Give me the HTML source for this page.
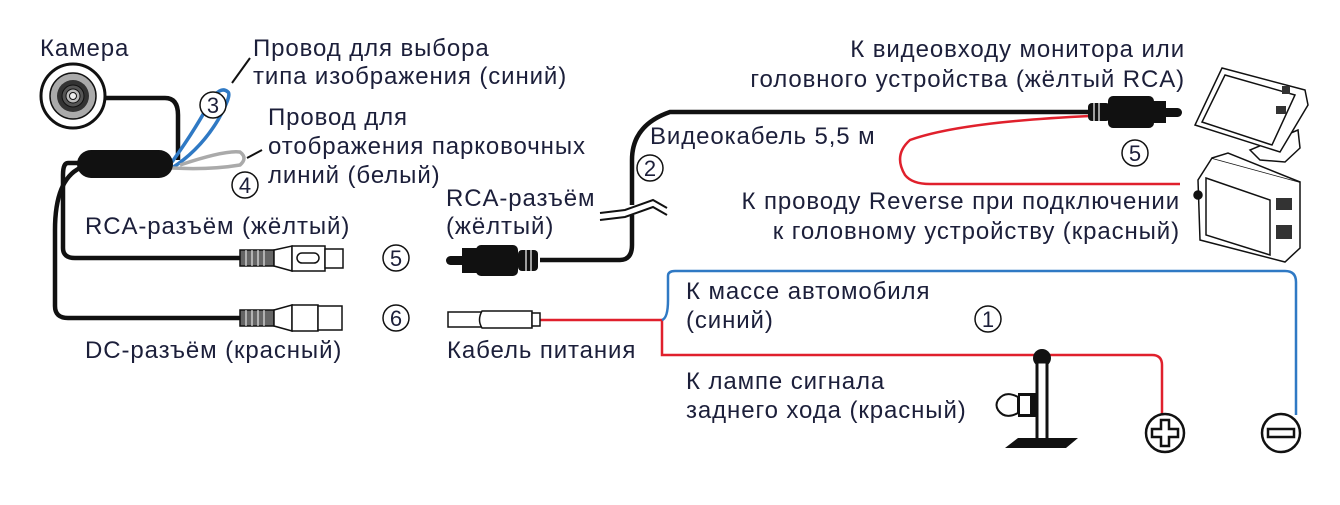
<!DOCTYPE html>
<html><head><meta charset="utf-8"><style>
html,body{margin:0;padding:0;background:#fff;}
svg{display:block}
text{font-family:"Liberation Sans","DejaVu Sans",sans-serif;font-size:24px;letter-spacing:0.9px;fill:#1c1f3a;}
.n{font-size:22px;letter-spacing:0;text-anchor:middle}
.c{fill:#fff;stroke:#111;stroke-width:1.5}
</style></head><body>
<svg width="1340" height="505" viewBox="0 0 1340 505" xmlns="http://www.w3.org/2000/svg">
<!-- camera -->
<circle cx="73" cy="96" r="32" fill="#fff" stroke="#111" stroke-width="3"/>
<circle cx="73" cy="96" r="23" fill="#aaa" stroke="#111" stroke-width="1.5"/>
<circle cx="73" cy="96" r="16" fill="#333"/>
<circle cx="73" cy="96" r="11" fill="#555" stroke="#111"/>
<circle cx="73" cy="96" r="7" fill="#bbb" stroke="#111"/>
<circle cx="73" cy="96" r="3.5" fill="#eee" stroke="#111"/>
<path d="M105 98 H165 Q178 98 178 115 V160" fill="none" stroke="#111" stroke-width="4.5"/>
<!-- cables from block -->
<path d="M82 163 H68 Q63 163 63 175 V248 Q63 258 75 258 H242" fill="none" stroke="#111" stroke-width="4.5"/>
<path d="M80 168 Q55 180 55 230 V306 Q55 318 68 318 H242" fill="none" stroke="#111" stroke-width="4.5"/>
<!-- loops -->
<path d="M172 168 Q200 150 218 120 Q232 95 228 92 Q220 85 210 102 Q195 130 172 162" fill="none" stroke="#2f79c4" stroke-width="3.5"/>
<path d="M172 168 Q210 170 240 165 Q248 158 240 152 Q225 150 180 165" fill="none" stroke="#aaa" stroke-width="3.5"/>
<line x1="232" y1="83" x2="250" y2="58" stroke="#111" stroke-width="2"/>
<line x1="247" y1="158" x2="262" y2="150" stroke="#111" stroke-width="2"/>
<rect x="77" y="150" width="96" height="28" rx="14" fill="#111"/>
<!-- female RCA -->
<g stroke="#111" stroke-width="1.5">
<rect x="240" y="250" width="34" height="16" fill="#666"/>
<path d="M274 250 L292 246 V271 L274 266 Z" fill="#fff"/>
<rect x="292" y="246" width="33" height="25" fill="#fff"/>
<rect x="297" y="253" width="22" height="10" rx="5" fill="#fff"/>
<rect x="325" y="249" width="18" height="19" fill="#fff"/>
<rect x="240" y="310" width="34" height="16" fill="#666"/>
<path d="M274 310 L292 305 V331 L274 326 Z" fill="#fff"/>
<rect x="292" y="305" width="26" height="26" fill="#fff"/>
<rect x="318" y="306" width="24" height="24" fill="#fff"/>
</g>
<g stroke="#fff" stroke-width="1"><line x1="246" y1="250" x2="246" y2="266"/><line x1="252" y1="250" x2="252" y2="266"/><line x1="258" y1="250" x2="258" y2="266"/><line x1="264" y1="250" x2="264" y2="266"/><line x1="246" y1="310" x2="246" y2="326"/><line x1="252" y1="310" x2="252" y2="326"/><line x1="258" y1="310" x2="258" y2="326"/><line x1="264" y1="310" x2="264" y2="326"/></g>
<!-- male RCA left -->
<path d="M540 260 H620 Q632 260 632 245 V160 Q632 125 670 112 H1095" fill="none" stroke="#111" stroke-width="4.5"/>
<rect x="446" y="256" width="30" height="9" rx="4.5" fill="#111"/>
<rect x="462" y="248" width="18" height="25" fill="#111"/>
<rect x="476" y="245" width="42" height="31" rx="5" fill="#111"/>
<rect x="518" y="250" width="20" height="21" rx="4" fill="#111"/>
<g stroke="#fff" stroke-width="1.2"><line x1="526" y1="250" x2="526" y2="271"/><line x1="531" y1="250" x2="531" y2="271"/></g>
<!-- break -->
<rect x="625" y="205" width="14" height="10" fill="#fff"/>
<path d="M600 213 L625 210 L653 200 L667 208 M600 220 L625 217 L653 207 L667 215" fill="none" stroke="#111" stroke-width="2"/>
<!-- right plug -->
<path d="M1090 116 Q960 122 910 140 Q893 155 905 175 Q912 184 930 184 H1180" fill="none" stroke="#e0202c" stroke-width="2.5"/>
<rect x="1088" y="103" width="22" height="18" rx="4" fill="#111"/>
<g stroke="#fff" stroke-width="1.2"><line x1="1094" y1="103" x2="1094" y2="121"/><line x1="1099" y1="103" x2="1099" y2="121"/></g>
<rect x="1108" y="96" width="46" height="32" rx="5" fill="#111"/>
<rect x="1150" y="101" width="16" height="22" fill="#111"/>
<rect x="1160" y="108" width="22" height="9" rx="4.5" fill="#111"/>
<!-- monitor -->
<g fill="#fff" stroke="#111" stroke-width="1.5">
<path d="M1250 150 L1260 160 L1285 162 L1300 148 L1298 130 Z"/>
<path d="M1222 68 L1305 90 L1308 105 L1280 152 L1195 125 Z"/>
<path d="M1225 75 L1295 95 L1272 145 L1202 122 Z"/>
<path d="M1212 158 L1300 182 L1300 248 L1285 262 L1200 240 L1198 180 Z"/>
<path d="M1212 158 L1228 153 L1300 182"/>
<path d="M1206 178 L1270 200 L1270 255 L1206 235 Z"/>
<circle cx="1198" cy="195" r="4" fill="#111"/>
</g>
<g fill="#333"><rect x="1276" y="198" width="16" height="12"/><rect x="1276" y="225" width="16" height="14"/><rect x="1276" y="106" width="10" height="8"/><rect x="1282" y="86" width="8" height="8"/></g>
<!-- power -->
<path d="M540 320 H662 V355 H1152 Q1162 355 1162 365 V415" fill="none" stroke="#e0202c" stroke-width="2.5"/>
<path d="M662 320 Q668 318 668 300 V276 Q668 271 675 271 H1285 Q1296 271 1296 282 V415" fill="none" stroke="#2f79c4" stroke-width="2.5"/>
<g stroke="#111" stroke-width="1.5" fill="#fff">
<rect x="448" y="312" width="34" height="15"/>
<path d="M482 311 H532 V328 H482 Q477 320 482 311 Z"/>
<rect x="532" y="313" width="8" height="13"/>
</g>
<!-- lamp -->
<circle cx="1042" cy="358" r="9" fill="#111"/>
<rect x="1037" y="362" width="10" height="78" fill="#fff" stroke="#111" stroke-width="3"/>
<path d="M1005 448 L1018 438 H1078 L1066 448 Z" fill="#111"/>
<rect x="1018" y="393" width="19" height="24" fill="#111"/><rect x="1020" y="396" width="10" height="18" fill="#fff"/>
<path d="M1018 397 Q1005 390 998 400 Q995 405 998 410 Q1005 420 1018 413 Z" fill="#fff" stroke="#111" stroke-width="2"/>
<!-- terminals -->
<circle cx="1165" cy="433" r="19" fill="#fff" stroke="#111" stroke-width="2.5"/>
<path d="M1161 420 h8 v9 h9 v8 h-9 v9 h-8 v-9 h-9 v-8 h9 z" fill="#fff" stroke="#111" stroke-width="2.5"/>
<circle cx="1281" cy="433" r="19" fill="#fff" stroke="#111" stroke-width="2.5"/>
<rect x="1268" y="429" width="26" height="8" fill="#fff" stroke="#111" stroke-width="2.5"/>
<!-- text -->
<text x="40" y="56">Камера</text>
<text x="253" y="56">Провод для выбора</text>
<text x="253" y="84">типа изображения (синий)</text>
<text x="268" y="125">Провод для</text>
<text x="268" y="154">отображения парковочных</text>
<text x="268" y="183">линий (белый)</text>
<text x="85" y="234">RCA-разъём (жёлтый)</text>
<text x="85" y="358">DC-разъём (красный)</text>
<text x="446" y="206">RCA-разъём</text>
<text x="446" y="234">(жёлтый)</text>
<text x="650" y="144">Видеокабель 5,5 м</text>
<text x="1185" y="57" text-anchor="end">К видеовходу монитора или</text>
<text x="1185" y="87" text-anchor="end">головного устройства (жёлтый RCA)</text>
<text x="1180" y="209" text-anchor="end">К проводу Reverse при подключении</text>
<text x="1180" y="239" text-anchor="end">к головному устройству (красный)</text>
<text x="686" y="299">К массе автомобиля</text>
<text x="686" y="328">(синий)</text>
<text x="447" y="358">Кабель питания</text>
<text x="686" y="389">К лампе сигнала</text>
<text x="686" y="418">заднего хода (красный)</text>
<g>
<circle class="c" cx="213" cy="105" r="13"/><text class="n" x="213" y="113">3</text>
<circle class="c" cx="245" cy="185" r="13"/><text class="n" x="245" y="193">4</text>
<circle class="c" cx="396" cy="258" r="13"/><text class="n" x="396" y="266">5</text>
<circle class="c" cx="396" cy="318" r="13"/><text class="n" x="396" y="326">6</text>
<circle class="c" cx="650" cy="168" r="13"/><text class="n" x="650" y="176">2</text>
<circle class="c" cx="1135" cy="153" r="13"/><text class="n" x="1135" y="161">5</text>
<circle class="c" cx="988" cy="319" r="13"/><text class="n" x="988" y="327">1</text>
</g>
</svg>
</body></html>
